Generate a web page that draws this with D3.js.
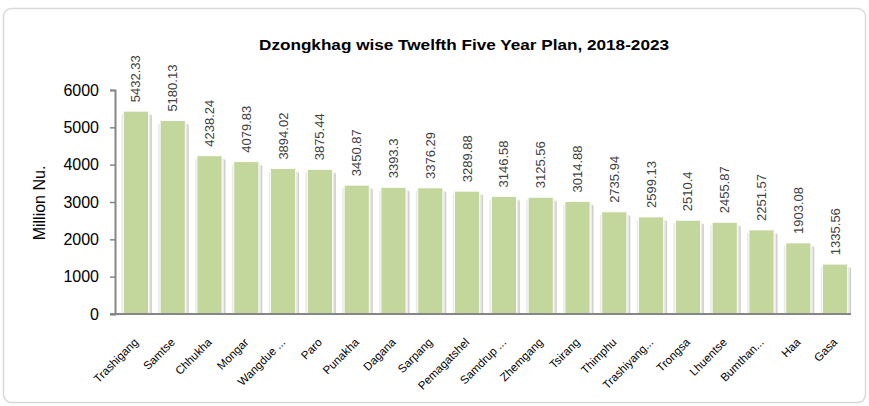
<!DOCTYPE html>
<html>
<head>
<meta charset="utf-8">
<script src="https://cdn.jsdelivr.net/npm/d3@7"></script>
<style>
  body { margin: 0; background: #fff; }
  svg { display: block; font-family: "Liberation Sans", Arial, sans-serif; }
</style>
</head>
<body>
<div class="chart"></div>
<script>
// Dzongkhag names (as shown, truncated like the original)
var dzongkhags = ["Trashigang", "Samtse", "Chhukha", "Mongar", "Wangdue ...", "Paro",
  "Punakha", "Dagana", "Sarpang", "Pemagatshel", "Samdrup ...", "Zhemgang",
  "Tsirang", "Thimphu", "Trashiyang...", "Trongsa", "Lhuentse", "Bumthan...", "Haa", "Gasa"];

// allocation in Million Nu.
var allocations = [5432.33, 5180.13, 4238.24, 4079.83, 3894.02, 3875.44,
  3450.87, 3393.3, 3376.29, 3289.88, 3146.58, 3125.56,
  3014.88, 2735.94, 2599.13, 2510.4, 2455.87, 2251.57, 1903.08, 1335.56];

var yTicks = [0, 1000, 2000, 3000, 4000, 5000, 6000];

var width = 869, height = 406;

var svg = d3.select(".chart")
  .append("svg")
  .attr("width", width)
  .attr("height", height);

//Outer chart border
svg.append("rect")
  .attr("x", 3.5)
  .attr("y", 8.5)
  .attr("width", 862)
  .attr("height", 394)
  .attr("rx", 8)
  .attr("fill", "#fff")
  .attr("stroke", "#d9d9d9")
  .attr("stroke-width", 1.5);

//Scales
var x = d3.scaleBand()
  .domain(dzongkhags)
  .range([117.5, 853.5])
  .paddingInner(0.32)
  .paddingOuter(0.16);

var y = d3.scaleLinear()
  .domain([0, 6000])
  .range([314, 90]);

//Title
svg.append("text")
  .attr("x", 464)
  .attr("y", 50)
  .attr("text-anchor", "middle")
  .attr("font-weight", "bold")
  .attr("font-size", "14px")
  .attr("textLength", 410)
  .attr("lengthAdjust", "spacingAndGlyphs")
  .attr("fill", "#000")
  .text("Dzongkhag wise Twelfth Five Year Plan, 2018-2023");

//Y axis title
svg.append("text")
  .attr("transform", "translate(45,203) rotate(-90)")
  .attr("text-anchor", "middle")
  .attr("font-size", "16px")
  .attr("fill", "#000")
  .text("Million Nu.");

//Bar shadows
svg.selectAll("rect.shadow")
  .data(allocations)
  .enter()
  .append("rect")
  .attr("class", "shadow")
  .attr("x", (d, i) => x(dzongkhags[i]) - 2)
  .attr("y", d => y(d) + 3)
  .attr("width", x.bandwidth() + 5)
  .attr("height", d => y(0) - y(d) - 3)
  .attr("fill", "#ebebeb");

svg.selectAll("rect.shadow-edge")
  .data(allocations)
  .enter()
  .append("rect")
  .attr("class", "shadow-edge")
  .attr("x", (d, i) => x(dzongkhags[i]) + x.bandwidth() + 2)
  .attr("y", d => y(d) + 4)
  .attr("width", 1.5)
  .attr("height", d => y(0) - y(d) - 4)
  .attr("fill", "#cfcfcf");

//Bars
svg.selectAll("rect.bar")
  .data(allocations)
  .enter()
  .append("rect")
  .attr("class", "bar")
  .attr("x", (d, i) => x(dzongkhags[i]))
  .attr("y", d => y(d))
  .attr("width", x.bandwidth())
  .attr("height", d => y(0) - y(d))
  .attr("fill", "#c3d69b")
  .attr("stroke", "#fff")
  .attr("stroke-width", 0.8);

//Value labels
svg.selectAll("text.value")
  .data(allocations)
  .enter()
  .append("text")
  .attr("class", "value")
  .attr("transform", (d, i) => "translate(" + (x(dzongkhags[i]) + x.bandwidth() / 2) + "," + (y(d) - 9) + ") rotate(-90)")
  .attr("dy", "0.35em")
  .attr("font-size", "13px")
  .attr("fill", "#404040")
  .text(d => String(d));

//Y axis
var yAxis = svg.append("g")
  .attr("transform", "translate(115,0)")
  .call(d3.axisLeft(y).tickValues(yTicks).tickSize(5).tickPadding(11).tickFormat(d3.format("d")));

yAxis.select(".domain").attr("stroke", "#868686").attr("stroke-width", 2);
yAxis.selectAll(".tick line").attr("stroke", "#868686").attr("stroke-width", 1.5);
yAxis.selectAll(".tick text")
  .attr("font-size", "16px")
  .attr("font-family", "Liberation Sans, Arial, sans-serif")
  .attr("fill", "#000");

//X axis line
svg.append("line")
  .attr("x1", 110)
  .attr("x2", 851)
  .attr("y1", y(0))
  .attr("y2", y(0))
  .attr("stroke", "#868686")
  .attr("stroke-width", 2);

//Category labels
svg.selectAll("text.cat")
  .data(dzongkhags)
  .enter()
  .append("text")
  .attr("class", "cat")
  .attr("transform", d => "translate(" + (x(d) + x.bandwidth() / 2 + 3) + ",343) rotate(-45)")
  .attr("text-anchor", "end")
  .attr("font-size", "11.5px")
  .attr("fill", "#000")
  .text(d => d);
</script>
</body>
</html>
